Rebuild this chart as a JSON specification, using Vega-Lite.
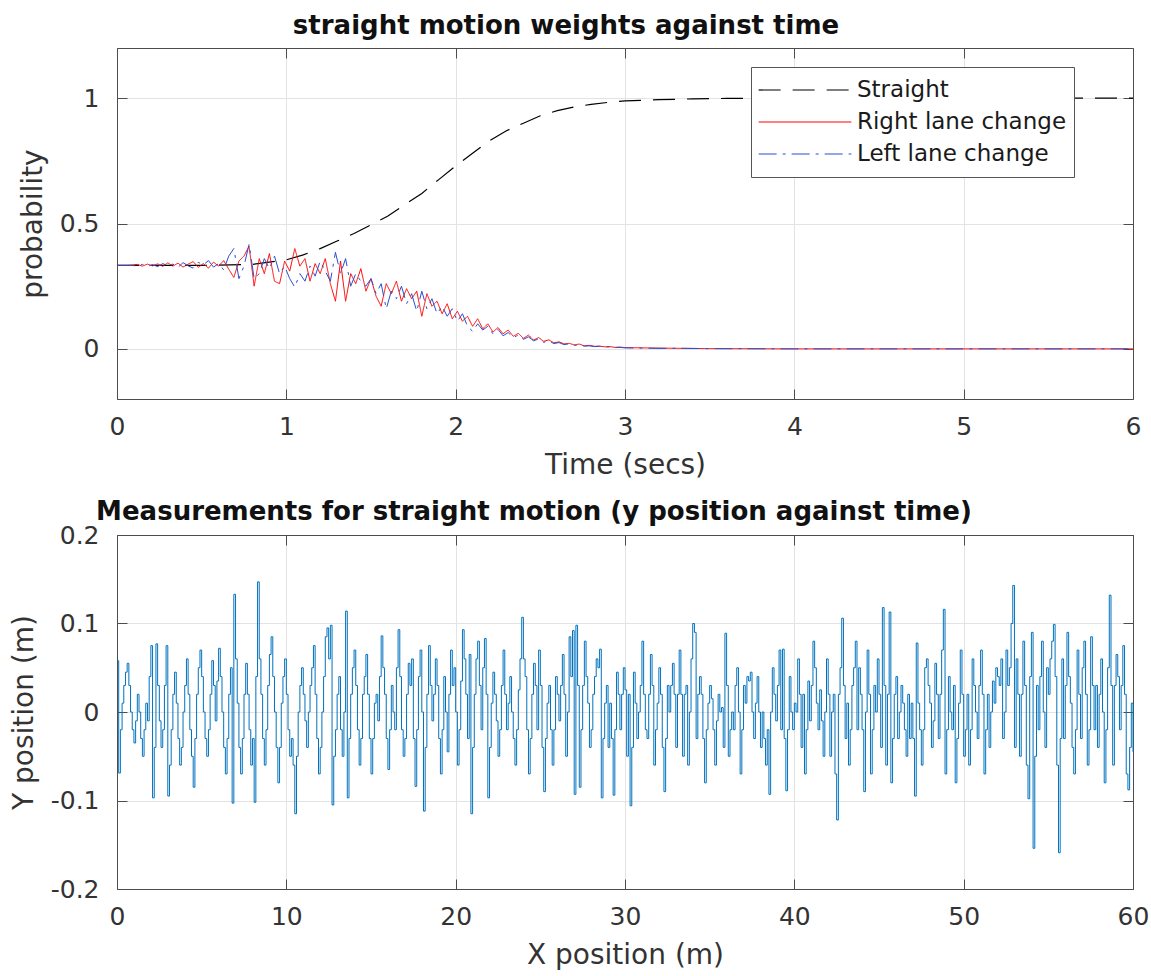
{
 "$schema": "https://vega.github.io/schema/vega-lite/v6.json",
 "background": "white",
 "padding": {"left": 10, "top": 12, "right": 18, "bottom": 5},
 "spacing": 17,
 "align": "all",
 "config": {
  "font": "DejaVu Sans",
  "view": {"stroke": null},
  "axis": {
   "labelFont": "DejaVu Sans", "labelFontSize": 25, "labelColor": "#333333",
   "titleFont": "DejaVu Sans", "titleFontSize": 28, "titleFontWeight": "normal", "titleColor": "#333333",
   "gridColor": "#e3e3e3", "gridWidth": 1, "gridOpacity": 1,
   "domainColor": "#4d4d4d", "domainWidth": 1, "tickColor": "#4d4d4d", "tickWidth": 1, "tickSize": -10,
   "labelPadding": 28, "titlePadding": 10, "labelFlush": false
  },
  "axisX": {"labelPadding": 25, "titlePadding": 12},
  "legend": {
   "orient": "none", "legendX": 634, "legendY": 19, "title": null,
   "symbolType": "stroke", "symbolSize": 8600, "symbolStrokeWidth": 1.2,
   "labelFont": "DejaVu Sans", "labelFontSize": 23, "labelColor": "#1a1a1a", "labelLimit": 0,
   "strokeColor": "#555555", "fillColor": "white", "padding": 7,
   "clipHeight": 32, "rowPadding": 0, "labelOffset": 5
  },
  "title": {"font": "DejaVu Sans", "fontSize": 26, "fontWeight": "bold", "color": "#111111", "anchor": "middle", "frame": "group", "baseline": "alphabetic"}
 },
 "datasets": {
  "top": [
   {"t":0,"p":0.333,"s":"Straight"},{"t":0.5,"p":0.333,"s":"Straight"},{"t":0.8,"p":0.337,"s":"Straight"},{"t":1.0,"p":0.355,"s":"Straight"},{"t":1.1,"p":0.375,"s":"Straight"},{"t":1.2,"p":0.4,"s":"Straight"},{"t":1.3,"p":0.43,"s":"Straight"},{"t":1.4,"p":0.46,"s":"Straight"},{"t":1.5,"p":0.495,"s":"Straight"},{"t":1.6,"p":0.53,"s":"Straight"},{"t":1.7,"p":0.575,"s":"Straight"},{"t":1.8,"p":0.62,"s":"Straight"},{"t":1.9,"p":0.675,"s":"Straight"},{"t":2.0,"p":0.73,"s":"Straight"},{"t":2.1,"p":0.78,"s":"Straight"},{"t":2.2,"p":0.83,"s":"Straight"},{"t":2.3,"p":0.87,"s":"Straight"},{"t":2.4,"p":0.9,"s":"Straight"},{"t":2.5,"p":0.93,"s":"Straight"},{"t":2.6,"p":0.95,"s":"Straight"},{"t":2.7,"p":0.965,"s":"Straight"},{"t":2.8,"p":0.975,"s":"Straight"},{"t":2.9,"p":0.983,"s":"Straight"},{"t":3.0,"p":0.989,"s":"Straight"},{"t":3.2,"p":0.994,"s":"Straight"},{"t":3.4,"p":0.997,"s":"Straight"},{"t":3.6,"p":0.999,"s":"Straight"},{"t":4.0,"p":1.0,"s":"Straight"},{"t":6.0,"p":1.0,"s":"Straight"},
   {"t":0,"p":0.333,"s":"Right lane change"},{"t":0.03,"p":0.333,"s":"Right lane change"},{"t":0.06,"p":0.333,"s":"Right lane change"},{"t":0.09,"p":0.334,"s":"Right lane change"},{"t":0.12,"p":0.337,"s":"Right lane change"},{"t":0.15,"p":0.33,"s":"Right lane change"},{"t":0.18,"p":0.338,"s":"Right lane change"},{"t":0.21,"p":0.331,"s":"Right lane change"},{"t":0.24,"p":0.339,"s":"Right lane change"},{"t":0.27,"p":0.329,"s":"Right lane change"},
   {"t":0.3,"p":0.343,"s":"Right lane change"},{"t":0.33,"p":0.33,"s":"Right lane change"},{"t":0.36,"p":0.342,"s":"Right lane change"},{"t":0.39,"p":0.326,"s":"Right lane change"},{"t":0.42,"p":0.338,"s":"Right lane change"},{"t":0.45,"p":0.348,"s":"Right lane change"},{"t":0.48,"p":0.325,"s":"Right lane change"},{"t":0.51,"p":0.34,"s":"Right lane change"},{"t":0.54,"p":0.322,"s":"Right lane change"},{"t":0.57,"p":0.346,"s":"Right lane change"},
   {"t":0.6,"p":0.33,"s":"Right lane change"},{"t":0.63,"p":0.352,"s":"Right lane change"},{"t":0.66,"p":0.318,"s":"Right lane change"},{"t":0.69,"p":0.285,"s":"Right lane change"},{"t":0.72,"p":0.35,"s":"Right lane change"},{"t":0.75,"p":0.37,"s":"Right lane change"},{"t":0.78,"p":0.41,"s":"Right lane change"},{"t":0.81,"p":0.25,"s":"Right lane change"},{"t":0.84,"p":0.36,"s":"Right lane change"},{"t":0.87,"p":0.3,"s":"Right lane change"},
   {"t":0.9,"p":0.38,"s":"Right lane change"},{"t":0.93,"p":0.27,"s":"Right lane change"},{"t":0.96,"p":0.26,"s":"Right lane change"},{"t":0.99,"p":0.35,"s":"Right lane change"},{"t":1.02,"p":0.31,"s":"Right lane change"},{"t":1.05,"p":0.4,"s":"Right lane change"},{"t":1.08,"p":0.33,"s":"Right lane change"},{"t":1.11,"p":0.36,"s":"Right lane change"},{"t":1.14,"p":0.27,"s":"Right lane change"},{"t":1.17,"p":0.34,"s":"Right lane change"},
   {"t":1.2,"p":0.3,"s":"Right lane change"},{"t":1.23,"p":0.36,"s":"Right lane change"},{"t":1.26,"p":0.26,"s":"Right lane change"},{"t":1.29,"p":0.19,"s":"Right lane change"},{"t":1.32,"p":0.35,"s":"Right lane change"},{"t":1.35,"p":0.19,"s":"Right lane change"},{"t":1.38,"p":0.3,"s":"Right lane change"},{"t":1.41,"p":0.26,"s":"Right lane change"},{"t":1.44,"p":0.32,"s":"Right lane change"},{"t":1.47,"p":0.23,"s":"Right lane change"},
   {"t":1.5,"p":0.28,"s":"Right lane change"},{"t":1.53,"p":0.21,"s":"Right lane change"},{"t":1.56,"p":0.17,"s":"Right lane change"},{"t":1.59,"p":0.26,"s":"Right lane change"},{"t":1.62,"p":0.22,"s":"Right lane change"},{"t":1.65,"p":0.27,"s":"Right lane change"},{"t":1.68,"p":0.19,"s":"Right lane change"},{"t":1.71,"p":0.24,"s":"Right lane change"},{"t":1.74,"p":0.2,"s":"Right lane change"},{"t":1.77,"p":0.23,"s":"Right lane change"},
   {"t":1.8,"p":0.13,"s":"Right lane change"},{"t":1.83,"p":0.22,"s":"Right lane change"},{"t":1.86,"p":0.17,"s":"Right lane change"},{"t":1.89,"p":0.19,"s":"Right lane change"},{"t":1.92,"p":0.14,"s":"Right lane change"},{"t":1.95,"p":0.18,"s":"Right lane change"},{"t":1.98,"p":0.12,"s":"Right lane change"},{"t":2.01,"p":0.15,"s":"Right lane change"},{"t":2.04,"p":0.11,"s":"Right lane change"},{"t":2.07,"p":0.13,"s":"Right lane change"},
   {"t":2.1,"p":0.09,"s":"Right lane change"},{"t":2.13,"p":0.12,"s":"Right lane change"},{"t":2.16,"p":0.08,"s":"Right lane change"},{"t":2.19,"p":0.1,"s":"Right lane change"},{"t":2.22,"p":0.067,"s":"Right lane change"},{"t":2.25,"p":0.085,"s":"Right lane change"},{"t":2.28,"p":0.06,"s":"Right lane change"},{"t":2.31,"p":0.075,"s":"Right lane change"},{"t":2.34,"p":0.05,"s":"Right lane change"},{"t":2.37,"p":0.062,"s":"Right lane change"},
   {"t":2.4,"p":0.042,"s":"Right lane change"},{"t":2.43,"p":0.055,"s":"Right lane change"},{"t":2.46,"p":0.035,"s":"Right lane change"},{"t":2.49,"p":0.045,"s":"Right lane change"},{"t":2.52,"p":0.03,"s":"Right lane change"},{"t":2.55,"p":0.036,"s":"Right lane change"},{"t":2.58,"p":0.024,"s":"Right lane change"},{"t":2.61,"p":0.028,"s":"Right lane change"},{"t":2.64,"p":0.02,"s":"Right lane change"},{"t":2.67,"p":0.022,"s":"Right lane change"},
   {"t":2.7,"p":0.016,"s":"Right lane change"},{"t":2.73,"p":0.019,"s":"Right lane change"},{"t":2.76,"p":0.012,"s":"Right lane change"},{"t":2.79,"p":0.014,"s":"Right lane change"},{"t":2.82,"p":0.01,"s":"Right lane change"},{"t":2.85,"p":0.011,"s":"Right lane change"},{"t":2.88,"p":0.008,"s":"Right lane change"},{"t":2.91,"p":0.009,"s":"Right lane change"},{"t":2.94,"p":0.006,"s":"Right lane change"},{"t":2.97,"p":0.007,"s":"Right lane change"},
   {"t":3.0,"p":0.005,"s":"Right lane change"},{"t":3.1,"p":0.004,"s":"Right lane change"},{"t":3.2,"p":0.003,"s":"Right lane change"},{"t":3.35,"p":0.002,"s":"Right lane change"},{"t":3.5,"p":0.001,"s":"Right lane change"},{"t":4.0,"p":0,"s":"Right lane change"},{"t":5.0,"p":0,"s":"Right lane change"},{"t":6.0,"p":0,"s":"Right lane change"},
   {"t":0,"p":0.333,"s":"Left lane change"},{"t":0.03,"p":0.333,"s":"Left lane change"},{"t":0.06,"p":0.333,"s":"Left lane change"},{"t":0.09,"p":0.333,"s":"Left lane change"},{"t":0.12,"p":0.33,"s":"Left lane change"},{"t":0.15,"p":0.337,"s":"Left lane change"},{"t":0.18,"p":0.329,"s":"Left lane change"},{"t":0.21,"p":0.336,"s":"Left lane change"},{"t":0.24,"p":0.328,"s":"Left lane change"},{"t":0.27,"p":0.34,"s":"Left lane change"},
   {"t":0.3,"p":0.332,"s":"Left lane change"},{"t":0.33,"p":0.338,"s":"Left lane change"},{"t":0.36,"p":0.325,"s":"Left lane change"},{"t":0.39,"p":0.344,"s":"Left lane change"},{"t":0.42,"p":0.331,"s":"Left lane change"},{"t":0.45,"p":0.322,"s":"Left lane change"},{"t":0.48,"p":0.345,"s":"Left lane change"},{"t":0.51,"p":0.335,"s":"Left lane change"},{"t":0.54,"p":0.352,"s":"Left lane change"},{"t":0.57,"p":0.326,"s":"Left lane change"},
   {"t":0.6,"p":0.34,"s":"Left lane change"},{"t":0.63,"p":0.315,"s":"Left lane change"},{"t":0.66,"p":0.37,"s":"Left lane change"},{"t":0.69,"p":0.4,"s":"Left lane change"},{"t":0.72,"p":0.28,"s":"Left lane change"},{"t":0.75,"p":0.33,"s":"Left lane change"},{"t":0.78,"p":0.417,"s":"Left lane change"},{"t":0.81,"p":0.28,"s":"Left lane change"},{"t":0.84,"p":0.3,"s":"Left lane change"},{"t":0.87,"p":0.36,"s":"Left lane change"},
   {"t":0.9,"p":0.32,"s":"Left lane change"},{"t":0.93,"p":0.37,"s":"Left lane change"},{"t":0.96,"p":0.3,"s":"Left lane change"},{"t":0.99,"p":0.33,"s":"Left lane change"},{"t":1.02,"p":0.28,"s":"Left lane change"},{"t":1.05,"p":0.246,"s":"Left lane change"},{"t":1.08,"p":0.3,"s":"Left lane change"},{"t":1.11,"p":0.27,"s":"Left lane change"},{"t":1.14,"p":0.33,"s":"Left lane change"},{"t":1.17,"p":0.29,"s":"Left lane change"},
   {"t":1.2,"p":0.35,"s":"Left lane change"},{"t":1.23,"p":0.31,"s":"Left lane change"},{"t":1.26,"p":0.27,"s":"Left lane change"},{"t":1.29,"p":0.385,"s":"Left lane change"},{"t":1.32,"p":0.3,"s":"Left lane change"},{"t":1.35,"p":0.36,"s":"Left lane change"},{"t":1.38,"p":0.25,"s":"Left lane change"},{"t":1.41,"p":0.3,"s":"Left lane change"},{"t":1.44,"p":0.27,"s":"Left lane change"},{"t":1.47,"p":0.25,"s":"Left lane change"},
   {"t":1.5,"p":0.28,"s":"Left lane change"},{"t":1.53,"p":0.22,"s":"Left lane change"},{"t":1.56,"p":0.26,"s":"Left lane change"},{"t":1.59,"p":0.16,"s":"Left lane change"},{"t":1.62,"p":0.23,"s":"Left lane change"},{"t":1.65,"p":0.2,"s":"Left lane change"},{"t":1.68,"p":0.25,"s":"Left lane change"},{"t":1.71,"p":0.18,"s":"Left lane change"},{"t":1.74,"p":0.22,"s":"Left lane change"},{"t":1.77,"p":0.15,"s":"Left lane change"},
   {"t":1.8,"p":0.23,"s":"Left lane change"},{"t":1.83,"p":0.16,"s":"Left lane change"},{"t":1.86,"p":0.2,"s":"Left lane change"},{"t":1.89,"p":0.14,"s":"Left lane change"},{"t":1.92,"p":0.17,"s":"Left lane change"},{"t":1.95,"p":0.13,"s":"Left lane change"},{"t":1.98,"p":0.16,"s":"Left lane change"},{"t":2.01,"p":0.11,"s":"Left lane change"},{"t":2.04,"p":0.14,"s":"Left lane change"},{"t":2.07,"p":0.09,"s":"Left lane change"},
   {"t":2.1,"p":0.07,"s":"Left lane change"},{"t":2.13,"p":0.1,"s":"Left lane change"},{"t":2.16,"p":0.075,"s":"Left lane change"},{"t":2.19,"p":0.09,"s":"Left lane change"},{"t":2.22,"p":0.06,"s":"Left lane change"},{"t":2.25,"p":0.078,"s":"Left lane change"},{"t":2.28,"p":0.052,"s":"Left lane change"},{"t":2.31,"p":0.065,"s":"Left lane change"},{"t":2.34,"p":0.045,"s":"Left lane change"},{"t":2.37,"p":0.055,"s":"Left lane change"},
   {"t":2.4,"p":0.038,"s":"Left lane change"},{"t":2.43,"p":0.048,"s":"Left lane change"},{"t":2.46,"p":0.032,"s":"Left lane change"},{"t":2.49,"p":0.04,"s":"Left lane change"},{"t":2.52,"p":0.026,"s":"Left lane change"},{"t":2.55,"p":0.032,"s":"Left lane change"},{"t":2.58,"p":0.021,"s":"Left lane change"},{"t":2.61,"p":0.025,"s":"Left lane change"},{"t":2.64,"p":0.017,"s":"Left lane change"},{"t":2.67,"p":0.02,"s":"Left lane change"},
   {"t":2.7,"p":0.014,"s":"Left lane change"},{"t":2.73,"p":0.016,"s":"Left lane change"},{"t":2.76,"p":0.011,"s":"Left lane change"},{"t":2.79,"p":0.012,"s":"Left lane change"},{"t":2.82,"p":0.009,"s":"Left lane change"},{"t":2.85,"p":0.01,"s":"Left lane change"},{"t":2.88,"p":0.007,"s":"Left lane change"},{"t":2.91,"p":0.008,"s":"Left lane change"},{"t":2.94,"p":0.005,"s":"Left lane change"},{"t":2.97,"p":0.006,"s":"Left lane change"},
   {"t":3.0,"p":0.004,"s":"Left lane change"},{"t":3.1,"p":0.003,"s":"Left lane change"},{"t":3.2,"p":0.002,"s":"Left lane change"},{"t":3.35,"p":0.002,"s":"Left lane change"},{"t":3.5,"p":0.001,"s":"Left lane change"},{"t":4.0,"p":0,"s":"Left lane change"},{"t":5.0,"p":0,"s":"Left lane change"},{"t":6.0,"p":0,"s":"Left lane change"}
  ],
  "bottom": [
   {"x":0,"y":0.058},{"x":0.1,"y":-0.069},{"x":0.2,"y":-0.02},{"x":0.3,"y":0.01},{"x":0.4,"y":0.03},{"x":0.5,"y":0.045},{"x":0.6,"y":0.055},{"x":0.7,"y":0.03},{"x":0.8,"y":0},{"x":0.9,"y":-0.02},
   {"x":1,"y":-0.035},{"x":1.1,"y":-0.01},{"x":1.2,"y":0.02},{"x":1.3,"y":0},{"x":1.4,"y":-0.03},{"x":1.5,"y":-0.05},{"x":1.6,"y":-0.02},{"x":1.7,"y":0.01},{"x":1.8,"y":-0.01},{"x":1.9,"y":0.04},
   {"x":2,"y":0.075},{"x":2.1,"y":-0.097},{"x":2.2,"y":-0.04},{"x":2.3,"y":0.077},{"x":2.4,"y":0.03},{"x":2.5,"y":-0.01},{"x":2.6,"y":-0.04},{"x":2.7,"y":-0.02},{"x":2.8,"y":0.03},{"x":2.9,"y":0.075},
   {"x":3,"y":-0.095},{"x":3.1,"y":-0.06},{"x":3.2,"y":-0.02},{"x":3.3,"y":0.02},{"x":3.4,"y":0.045},{"x":3.5,"y":0.01},{"x":3.6,"y":-0.03},{"x":3.7,"y":-0.06},{"x":3.8,"y":-0.04},{"x":3.9,"y":0},
   {"x":4,"y":0.03},{"x":4.1,"y":0.06},{"x":4.2,"y":0.02},{"x":4.3,"y":-0.02},{"x":4.4,"y":-0.05},{"x":4.5,"y":-0.085},{"x":4.6,"y":-0.03},{"x":4.7,"y":0.02},{"x":4.8,"y":0.05},{"x":4.9,"y":0.07},
   {"x":5,"y":0.04},{"x":5.1,"y":0},{"x":5.2,"y":-0.03},{"x":5.3,"y":-0.05},{"x":5.4,"y":-0.02},{"x":5.5,"y":0.02},{"x":5.6,"y":0.058},{"x":5.7,"y":0.03},{"x":5.8,"y":-0.01},{"x":5.9,"y":0.035},
   {"x":6,"y":0.072},{"x":6.1,"y":0.04},{"x":6.2,"y":0},{"x":6.3,"y":-0.04},{"x":6.4,"y":-0.07},{"x":6.5,"y":-0.03},{"x":6.6,"y":0.02},{"x":6.7,"y":0.05},{"x":6.8,"y":-0.103},{"x":6.9,"y":0.133},
   {"x":7,"y":0.06},{"x":7.1,"y":0.01},{"x":7.2,"y":-0.04},{"x":7.3,"y":-0.07},{"x":7.4,"y":-0.03},{"x":7.5,"y":0.02},{"x":7.6,"y":0.055},{"x":7.7,"y":0.02},{"x":7.8,"y":-0.02},{"x":7.9,"y":-0.06},
   {"x":8,"y":-0.03},{"x":8.1,"y":-0.102},{"x":8.2,"y":0.04},{"x":8.3,"y":0.147},{"x":8.4,"y":0.06},{"x":8.5,"y":0.02},{"x":8.6,"y":-0.03},{"x":8.7,"y":-0.06},{"x":8.8,"y":-0.02},{"x":8.9,"y":0.03},
   {"x":9,"y":0.065},{"x":9.1,"y":0.085},{"x":9.2,"y":0.04},{"x":9.3,"y":0},{"x":9.4,"y":-0.04},{"x":9.5,"y":-0.08},{"x":9.6,"y":-0.04},{"x":9.7,"y":0.01},{"x":9.8,"y":0.04},{"x":9.9,"y":0.06},
   {"x":10,"y":0.02},{"x":10.1,"y":-0.02},{"x":10.2,"y":-0.05},{"x":10.3,"y":-0.03},{"x":10.4,"y":-0.06},{"x":10.5,"y":-0.115},{"x":10.6,"y":-0.05},{"x":10.7,"y":0},{"x":10.8,"y":0.03},{"x":10.9,"y":0.05},
   {"x":11,"y":0.02},{"x":11.1,"y":-0.01},{"x":11.2,"y":-0.04},{"x":11.3,"y":0},{"x":11.4,"y":0.03},{"x":11.5,"y":0.05},{"x":11.6,"y":0.075},{"x":11.7,"y":0.02},{"x":11.8,"y":-0.03},{"x":11.9,"y":-0.07},
   {"x":12,"y":-0.04},{"x":12.1,"y":0},{"x":12.2,"y":0.04},{"x":12.3,"y":0.085},{"x":12.4,"y":0.095},{"x":12.5,"y":0.06},{"x":12.6,"y":0.098},{"x":12.7,"y":-0.105},{"x":12.8,"y":-0.05},{"x":12.9,"y":-0.02},
   {"x":13,"y":0.02},{"x":13.1,"y":0.04},{"x":13.2,"y":-0.02},{"x":13.3,"y":-0.05},{"x":13.4,"y":0},{"x":13.5,"y":0.114},{"x":13.6,"y":-0.097},{"x":13.7,"y":-0.03},{"x":13.8,"y":0.02},{"x":13.9,"y":0.05},
   {"x":14,"y":0.07},{"x":14.1,"y":0.03},{"x":14.2,"y":-0.02},{"x":14.3,"y":-0.06},{"x":14.4,"y":-0.03},{"x":14.5,"y":0.02},{"x":14.6,"y":0.04},{"x":14.7,"y":0.065},{"x":14.8,"y":0.02},{"x":14.9,"y":-0.03},
   {"x":15,"y":-0.07},{"x":15.1,"y":-0.03},{"x":15.2,"y":0.01},{"x":15.3,"y":0.02},{"x":15.4,"y":-0.01},{"x":15.5,"y":0.04},{"x":15.6,"y":0.086},{"x":15.7,"y":0.05},{"x":15.8,"y":0.02},{"x":15.9,"y":-0.03},
   {"x":16,"y":-0.065},{"x":16.1,"y":-0.02},{"x":16.2,"y":0.03},{"x":16.3,"y":0},{"x":16.4,"y":-0.02},{"x":16.5,"y":0.05},{"x":16.6,"y":0.093},{"x":16.7,"y":0.04},{"x":16.8,"y":-0.02},{"x":16.9,"y":-0.05},
   {"x":17,"y":-0.03},{"x":17.1,"y":0.02},{"x":17.2,"y":0.055},{"x":17.3,"y":0.03},{"x":17.4,"y":0.06},{"x":17.5,"y":-0.03},{"x":17.6,"y":-0.084},{"x":17.7,"y":-0.02},{"x":17.8,"y":0.04},{"x":17.9,"y":0.07},
   {"x":18,"y":0},{"x":18.1,"y":-0.112},{"x":18.2,"y":-0.04},{"x":18.3,"y":0.02},{"x":18.4,"y":0.075},{"x":18.5,"y":0.03},{"x":18.6,"y":-0.01},{"x":18.7,"y":0.02},{"x":18.8,"y":0.06},{"x":18.9,"y":0.03},
   {"x":19,"y":-0.03},{"x":19.1,"y":-0.07},{"x":19.2,"y":-0.02},{"x":19.3,"y":0.04},{"x":19.4,"y":0},{"x":19.5,"y":-0.045},{"x":19.6,"y":0.02},{"x":19.7,"y":0.07},{"x":19.8,"y":0.03},{"x":19.9,"y":0.05},
   {"x":20,"y":0},{"x":20.1,"y":-0.06},{"x":20.2,"y":-0.02},{"x":20.3,"y":0.035},{"x":20.4,"y":0.093},{"x":20.5,"y":0.06},{"x":20.6,"y":0.02},{"x":20.7,"y":-0.03},{"x":20.8,"y":0.065},{"x":20.9,"y":-0.115},
   {"x":21,"y":-0.04},{"x":21.1,"y":0.02},{"x":21.2,"y":0.06},{"x":21.3,"y":0.08},{"x":21.4,"y":0.03},{"x":21.5,"y":-0.02},{"x":21.6,"y":0.05},{"x":21.7,"y":0.083},{"x":21.8,"y":0.02},{"x":21.9,"y":-0.097},
   {"x":22,"y":-0.04},{"x":22.1,"y":0.01},{"x":22.2,"y":0.045},{"x":22.3,"y":0.02},{"x":22.4,"y":-0.01},{"x":22.5,"y":-0.05},{"x":22.6,"y":-0.02},{"x":22.7,"y":0.03},{"x":22.8,"y":0.07},{"x":22.9,"y":0.02},
   {"x":23,"y":-0.02},{"x":23.1,"y":0.01},{"x":23.2,"y":0.04},{"x":23.3,"y":0},{"x":23.4,"y":-0.03},{"x":23.5,"y":-0.06},{"x":23.6,"y":-0.02},{"x":23.7,"y":0.025},{"x":23.8,"y":0.06},{"x":23.9,"y":0.107},
   {"x":24,"y":0.06},{"x":24.1,"y":0.04},{"x":24.2,"y":-0.02},{"x":24.3,"y":-0.07},{"x":24.4,"y":-0.03},{"x":24.5,"y":0.02},{"x":24.6,"y":0.055},{"x":24.7,"y":0.03},{"x":24.8,"y":-0.02},{"x":24.9,"y":0.07},
   {"x":25,"y":0.03},{"x":25.1,"y":-0.04},{"x":25.2,"y":-0.09},{"x":25.3,"y":-0.03},{"x":25.4,"y":0.01},{"x":25.5,"y":0.03},{"x":25.6,"y":-0.02},{"x":25.7,"y":-0.06},{"x":25.8,"y":-0.02},{"x":25.9,"y":0.04},
   {"x":26,"y":0.02},{"x":26.1,"y":-0.01},{"x":26.2,"y":0.03},{"x":26.3,"y":0.065},{"x":26.4,"y":0.02},{"x":26.5,"y":-0.05},{"x":26.6,"y":0},{"x":26.7,"y":0.085},{"x":26.8,"y":0.04},{"x":26.9,"y":0.092},
   {"x":27,"y":-0.093},{"x":27.1,"y":0.098},{"x":27.2,"y":0.03},{"x":27.3,"y":-0.085},{"x":27.4,"y":-0.02},{"x":27.5,"y":0.03},{"x":27.6,"y":0.08},{"x":27.7,"y":0.04},{"x":27.8,"y":0.01},{"x":27.9,"y":-0.04},
   {"x":28,"y":-0.02},{"x":28.1,"y":0.02},{"x":28.2,"y":0.04},{"x":28.3,"y":0.06},{"x":28.4,"y":0.05},{"x":28.5,"y":0.071},{"x":28.6,"y":-0.097},{"x":28.7,"y":-0.03},{"x":28.8,"y":0.01},{"x":28.9,"y":0.03},
   {"x":29,"y":-0.04},{"x":29.1,"y":0.01},{"x":29.2,"y":-0.03},{"x":29.3,"y":-0.094},{"x":29.4,"y":-0.02},{"x":29.5,"y":0.045},{"x":29.6,"y":0.02},{"x":29.7,"y":-0.02},{"x":29.8,"y":0.02},{"x":29.9,"y":0.05},
   {"x":30,"y":0.025},{"x":30.1,"y":-0.05},{"x":30.2,"y":0.02},{"x":30.3,"y":-0.106},{"x":30.4,"y":-0.04},{"x":30.5,"y":0.045},{"x":30.6,"y":0.01},{"x":30.7,"y":-0.03},{"x":30.8,"y":0},{"x":30.9,"y":0.03},
   {"x":31,"y":0.08},{"x":31.1,"y":0.02},{"x":31.2,"y":-0.02},{"x":31.3,"y":-0.03},{"x":31.4,"y":0.02},{"x":31.5,"y":0.065},{"x":31.6,"y":0.03},{"x":31.7,"y":-0.06},{"x":31.8,"y":-0.02},{"x":31.9,"y":0.01},
   {"x":32,"y":0.05},{"x":32.1,"y":0.02},{"x":32.2,"y":-0.04},{"x":32.3,"y":-0.09},{"x":32.4,"y":-0.03},{"x":32.5,"y":0.03},{"x":32.6,"y":0},{"x":32.7,"y":0.03},{"x":32.8,"y":0.055},{"x":32.9,"y":0.02},
   {"x":33,"y":-0.04},{"x":33.1,"y":0.02},{"x":33.2,"y":0.07},{"x":33.3,"y":0.02},{"x":33.4,"y":-0.05},{"x":33.5,"y":0.02},{"x":33.6,"y":0.03},{"x":33.7,"y":-0.06},{"x":33.8,"y":0},{"x":33.9,"y":0.06},
   {"x":34,"y":0.1},{"x":34.1,"y":0.09},{"x":34.2,"y":-0.03},{"x":34.3,"y":0.02},{"x":34.4,"y":0.04},{"x":34.5,"y":0.02},{"x":34.6,"y":-0.03},{"x":34.7,"y":-0.08},{"x":34.8,"y":-0.02},{"x":34.9,"y":0.01},
   {"x":35,"y":0.03},{"x":35.1,"y":0.015},{"x":35.2,"y":-0.02},{"x":35.3,"y":-0.06},{"x":35.4,"y":-0.01},{"x":35.5,"y":0.02},{"x":35.6,"y":0},{"x":35.7,"y":0.005},{"x":35.8,"y":-0.04},{"x":35.9,"y":0.089},
   {"x":36,"y":0.03},{"x":36.1,"y":-0.05},{"x":36.2,"y":-0.02},{"x":36.3,"y":0},{"x":36.4,"y":-0.02},{"x":36.5,"y":0.03},{"x":36.6,"y":0.05},{"x":36.7,"y":0},{"x":36.8,"y":-0.07},{"x":36.9,"y":-0.02},
   {"x":37,"y":0.03},{"x":37.1,"y":0.01},{"x":37.2,"y":0.04},{"x":37.3,"y":0.035},{"x":37.4,"y":0.045},{"x":37.5,"y":0},{"x":37.6,"y":-0.03},{"x":37.7,"y":0.01},{"x":37.8,"y":0.04},{"x":37.9,"y":0},
   {"x":38,"y":-0.04},{"x":38.1,"y":0},{"x":38.2,"y":-0.03},{"x":38.3,"y":-0.06},{"x":38.4,"y":-0.02},{"x":38.5,"y":-0.093},{"x":38.6,"y":0},{"x":38.7,"y":0.05},{"x":38.8,"y":0.02},{"x":38.9,"y":-0.01},
   {"x":39,"y":0.03},{"x":39.1,"y":0.07},{"x":39.2,"y":-0.02},{"x":39.3,"y":0.071},{"x":39.4,"y":-0.03},{"x":39.5,"y":-0.089},{"x":39.6,"y":-0.02},{"x":39.7,"y":0.04},{"x":39.8,"y":0},{"x":39.9,"y":-0.02},
   {"x":40,"y":0.01},{"x":40.1,"y":0},{"x":40.2,"y":0.06},{"x":40.3,"y":0.02},{"x":40.4,"y":-0.04},{"x":40.5,"y":0.02},{"x":40.6,"y":-0.07},{"x":40.7,"y":-0.02},{"x":40.8,"y":0.035},{"x":40.9,"y":-0.01},
   {"x":41,"y":0.03},{"x":41.1,"y":0.08},{"x":41.2,"y":0.05},{"x":41.3,"y":0.01},{"x":41.4,"y":-0.02},{"x":41.5,"y":0.025},{"x":41.6,"y":-0.01},{"x":41.7,"y":-0.05},{"x":41.8,"y":0},{"x":41.9,"y":0.06},
   {"x":42,"y":0.02},{"x":42.1,"y":-0.05},{"x":42.2,"y":0},{"x":42.3,"y":0.02},{"x":42.4,"y":-0.07},{"x":42.5,"y":-0.122},{"x":42.6,"y":0.02},{"x":42.7,"y":0.05},{"x":42.8,"y":0.106},{"x":42.9,"y":0.03},
   {"x":43,"y":-0.03},{"x":43.1,"y":0.01},{"x":43.2,"y":-0.06},{"x":43.3,"y":-0.02},{"x":43.4,"y":0.03},{"x":43.5,"y":0.05},{"x":43.6,"y":0.08},{"x":43.7,"y":-0.02},{"x":43.8,"y":0.05},{"x":43.9,"y":0.02},
   {"x":44,"y":-0.02},{"x":44.1,"y":-0.09},{"x":44.2,"y":0},{"x":44.3,"y":0.07},{"x":44.4,"y":0.02},{"x":44.5,"y":-0.07},{"x":44.6,"y":-0.02},{"x":44.7,"y":0.03},{"x":44.8,"y":0},{"x":44.9,"y":0.06},
   {"x":45,"y":0.02},{"x":45.1,"y":-0.04},{"x":45.2,"y":0.118},{"x":45.3,"y":0.03},{"x":45.4,"y":-0.06},{"x":45.5,"y":0.02},{"x":45.6,"y":0.113},{"x":45.7,"y":-0.08},{"x":45.8,"y":-0.03},{"x":45.9,"y":0.02},
   {"x":46,"y":0.04},{"x":46.1,"y":-0.03},{"x":46.2,"y":0},{"x":46.3,"y":0.03},{"x":46.4,"y":0.01},{"x":46.5,"y":-0.02},{"x":46.6,"y":-0.05},{"x":46.7,"y":0.02},{"x":46.8,"y":-0.03},{"x":46.9,"y":0.01},
   {"x":47,"y":-0.03},{"x":47.1,"y":-0.095},{"x":47.2,"y":0.078},{"x":47.3,"y":0.01},{"x":47.4,"y":-0.02},{"x":47.5,"y":-0.06},{"x":47.6,"y":-0.02},{"x":47.7,"y":0.05},{"x":47.8,"y":0.06},{"x":47.9,"y":0.03},
   {"x":48,"y":0.01},{"x":48.1,"y":-0.04},{"x":48.2,"y":-0.01},{"x":48.3,"y":0.055},{"x":48.4,"y":0.02},{"x":48.5,"y":-0.03},{"x":48.6,"y":0.02},{"x":48.7,"y":0.07},{"x":48.8,"y":0.116},{"x":48.9,"y":-0.07},
   {"x":49,"y":-0.02},{"x":49.1,"y":0.04},{"x":49.2,"y":0},{"x":49.3,"y":-0.02},{"x":49.4,"y":0.03},{"x":49.5,"y":-0.08},{"x":49.6,"y":-0.03},{"x":49.7,"y":0.01},{"x":49.8,"y":0.07},{"x":49.9,"y":0.02},
   {"x":50,"y":-0.05},{"x":50.1,"y":-0.02},{"x":50.2,"y":0.02},{"x":50.3,"y":-0.06},{"x":50.4,"y":-0.02},{"x":50.5,"y":0.06},{"x":50.6,"y":0.03},{"x":50.7,"y":0},{"x":50.8,"y":-0.03},{"x":50.9,"y":0.03},
   {"x":51,"y":0.07},{"x":51.1,"y":0.02},{"x":51.2,"y":-0.07},{"x":51.3,"y":-0.02},{"x":51.4,"y":0.02},{"x":51.5,"y":-0.04},{"x":51.6,"y":0},{"x":51.7,"y":0.035},{"x":51.8,"y":0.01},{"x":51.9,"y":0.05},
   {"x":52,"y":0.04},{"x":52.1,"y":0.03},{"x":52.2,"y":0.06},{"x":52.3,"y":-0.03},{"x":52.4,"y":0},{"x":52.5,"y":0.07},{"x":52.6,"y":0.03},{"x":52.7,"y":0.05},{"x":52.8,"y":0.1},{"x":52.9,"y":0.143},
   {"x":53,"y":-0.04},{"x":53.1,"y":0.06},{"x":53.2,"y":0.02},{"x":53.3,"y":-0.05},{"x":53.4,"y":0.02},{"x":53.5,"y":0.08},{"x":53.6,"y":0.03},{"x":53.7,"y":-0.06},{"x":53.8,"y":-0.098},{"x":53.9,"y":0.04},
   {"x":54,"y":0.09},{"x":54.1,"y":-0.154},{"x":54.2,"y":-0.05},{"x":54.3,"y":0.03},{"x":54.4,"y":-0.02},{"x":54.5,"y":0.04},{"x":54.6,"y":0.08},{"x":54.7,"y":0},{"x":54.8,"y":-0.04},{"x":54.9,"y":0.05},
   {"x":55,"y":0.02},{"x":55.1,"y":0.06},{"x":55.2,"y":0.08},{"x":55.3,"y":0.099},{"x":55.4,"y":0.04},{"x":55.5,"y":-0.06},{"x":55.6,"y":-0.159},{"x":55.7,"y":-0.03},{"x":55.8,"y":0.06},{"x":55.9,"y":-0.03},
   {"x":56,"y":0.03},{"x":56.1,"y":0.09},{"x":56.2,"y":0.04},{"x":56.3,"y":0.01},{"x":56.4,"y":-0.04},{"x":56.5,"y":-0.07},{"x":56.6,"y":-0.02},{"x":56.7,"y":0.07},{"x":56.8,"y":0.02},{"x":56.9,"y":-0.03},
   {"x":57,"y":0.05},{"x":57.1,"y":0.08},{"x":57.2,"y":0.02},{"x":57.3,"y":-0.06},{"x":57.4,"y":-0.02},{"x":57.5,"y":0.085},{"x":57.6,"y":0.03},{"x":57.7,"y":-0.02},{"x":57.8,"y":0.03},{"x":57.9,"y":-0.04},
   {"x":58,"y":0.02},{"x":58.1,"y":0.06},{"x":58.2,"y":0},{"x":58.3,"y":-0.08},{"x":58.4,"y":-0.02},{"x":58.5,"y":0.05},{"x":58.6,"y":0.132},{"x":58.7,"y":0.03},{"x":58.8,"y":-0.06},{"x":58.9,"y":0.03},
   {"x":59,"y":0.065},{"x":59.1,"y":0.04},{"x":59.2,"y":-0.02},{"x":59.3,"y":0.03},{"x":59.4,"y":0.075},{"x":59.5,"y":0.02},{"x":59.6,"y":-0.07},{"x":59.7,"y":-0.088},{"x":59.8,"y":-0.04},{"x":59.9,"y":0.01},
   {"x":60,"y":-0.045}
  ]
 },
 "vconcat": [
  {
   "width": 1016, "height": 351,
   "title": {"text": "straight motion weights against time", "dx": -59, "offset": 9},
   "data": {"name": "top"},
   "layer": [
    {
     "transform": [{"filter": "datum.s == 'Straight'"}],
     "mark": {"type": "line", "strokeWidth": 1.2},
     "encoding": {
      "x": {"field": "t", "type": "quantitative", "scale": {"domain": [0, 6], "nice": false}, "axis": {"values": [0, 1, 2, 3, 4, 5, 6], "title": "Time (secs)"}},
      "y": {"field": "p", "type": "quantitative", "scale": {"domain": [-0.2, 1.2], "nice": false, "zero": false}, "axis": {"values": [0, 0.5, 1], "format": "~g", "title": "probability", "titlePadding": 12}},
      "color": {"field": "s", "type": "nominal", "scale": {"domain": ["Straight", "Right lane change", "Left lane change"], "range": ["#000000", "#ff0000", "#2b4fd1"]}},
      "strokeDash": {"field": "s", "type": "nominal", "scale": {"domain": ["Straight", "Right lane change", "Left lane change"], "range": [[22, 12], [1, 0], [18, 6, 3, 6]]}}
     }
    },
    {
     "transform": [{"filter": "datum.s == 'Right lane change'"}],
     "mark": {"type": "line", "strokeWidth": 1},
     "encoding": {
      "x": {"field": "t", "type": "quantitative", "scale": {"domain": [0, 6], "nice": false}, "axis": null},
      "y": {"field": "p", "type": "quantitative", "scale": {"domain": [-0.2, 1.2], "nice": false, "zero": false}, "axis": null},
      "color": {"field": "s", "type": "nominal", "scale": {"domain": ["Straight", "Right lane change", "Left lane change"], "range": ["#000000", "#ff0000", "#2b4fd1"]}},
      "strokeDash": {"field": "s", "type": "nominal", "scale": {"domain": ["Straight", "Right lane change", "Left lane change"], "range": [[22, 12], [1, 0], [18, 6, 3, 6]]}}
     }
    },
    {
     "transform": [{"filter": "datum.s == 'Left lane change'"}],
     "mark": {"type": "line", "strokeWidth": 1},
     "encoding": {
      "x": {"field": "t", "type": "quantitative", "scale": {"domain": [0, 6], "nice": false}, "axis": null},
      "y": {"field": "p", "type": "quantitative", "scale": {"domain": [-0.2, 1.2], "nice": false, "zero": false}, "axis": null},
      "color": {"field": "s", "type": "nominal", "scale": {"domain": ["Straight", "Right lane change", "Left lane change"], "range": ["#000000", "#ff0000", "#2b4fd1"]}},
      "strokeDash": {"field": "s", "type": "nominal", "scale": {"domain": ["Straight", "Right lane change", "Left lane change"], "range": [[22, 12], [1, 0], [18, 6, 3, 6]]}}
     }
    },
    {
     "mark": {"type": "line", "opacity": 0},
     "encoding": {
      "x": {"field": "t", "type": "quantitative", "scale": {"domain": [0, 6], "nice": false}, "axis": {"orient": "top", "values": [0, 1, 2, 3, 4, 5, 6], "labels": false, "grid": false, "title": null}},
      "y": {"field": "p", "type": "quantitative", "scale": {"domain": [-0.2, 1.2], "nice": false, "zero": false}, "axis": {"orient": "right", "values": [0, 0.5, 1], "labels": false, "grid": false, "title": null}}
     }
    }
   ],
   "resolve": {"axis": {"x": "independent", "y": "independent"}}
  },
  {
   "width": 1016, "height": 354,
   "title": {"text": "Measurements for straight motion (y position against time)", "dx": -91, "offset": -2},
   "data": {"name": "bottom"},
   "layer": [
    {
     "mark": {"type": "line", "color": "#0072bd", "strokeWidth": 1, "interpolate": "step-after"},
     "encoding": {
      "x": {"field": "x", "type": "quantitative", "scale": {"domain": [0, 60], "nice": false}, "axis": {"values": [0, 10, 20, 30, 40, 50, 60], "title": "X position (m)"}},
      "y": {"field": "y", "type": "quantitative", "scale": {"domain": [-0.2, 0.2], "nice": false, "zero": false}, "axis": {"values": [-0.2, -0.1, 0, 0.1, 0.2], "format": "~g", "labelExpr": "replace(datum.label, '\u2212', '-')", "title": "Y position (m)", "titlePadding": 12}}
     }
    },
    {
     "mark": {"type": "line", "opacity": 0},
     "encoding": {
      "x": {"field": "x", "type": "quantitative", "scale": {"domain": [0, 60], "nice": false}, "axis": {"orient": "top", "values": [0, 10, 20, 30, 40, 50, 60], "labels": false, "grid": false, "title": null}},
      "y": {"field": "y", "type": "quantitative", "scale": {"domain": [-0.2, 0.2], "nice": false, "zero": false}, "axis": {"orient": "right", "values": [-0.2, -0.1, 0, 0.1, 0.2], "labels": false, "grid": false, "title": null}}
     }
    }
   ],
   "resolve": {"axis": {"x": "independent", "y": "independent"}}
  }
 ]
}
